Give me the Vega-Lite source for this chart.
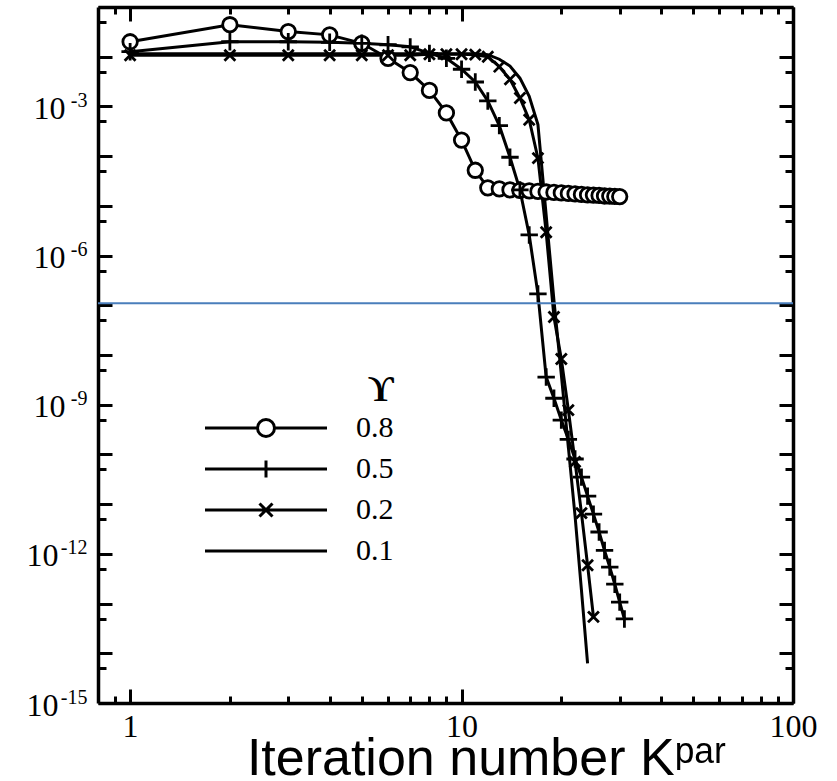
{
  "$schema": "https://vega.github.io/schema/vega-lite/v6.json",
  "width": 695,
  "height": 696,
  "autosize": "none",
  "padding": {"left": 98, "top": 7, "right": 44, "bottom": 78},
  "background": "white",
  "config": {
    "view": {"stroke": null},
    "axis": {
      "grid": false,
      "domainColor": "black",
      "domainWidth": 3.5,
      "tickColor": "black",
      "tickWidth": 3,
      "labelFont": "Liberation Serif",
      "labelFontSize": 32,
      "labelColor": "black"
    }
  },
  "datasets": {
    "runs": [
      {"g": "0.8", "k": 1, "v": 2.0e-2},
      {"g": "0.8", "k": 2, "v": 4.4e-2},
      {"g": "0.8", "k": 3, "v": 3.2e-2},
      {"g": "0.8", "k": 4, "v": 2.75e-2},
      {"g": "0.8", "k": 5, "v": 1.86e-2},
      {"g": "0.8", "k": 6, "v": 9.3e-3},
      {"g": "0.8", "k": 7, "v": 4.8e-3},
      {"g": "0.8", "k": 8, "v": 2.1e-3},
      {"g": "0.8", "k": 9, "v": 7.4e-4},
      {"g": "0.8", "k": 10, "v": 2.1e-4},
      {"g": "0.8", "k": 11, "v": 5.2e-5},
      {"g": "0.8", "k": 12, "v": 2.3e-5},
      {"g": "0.8", "k": 13, "v": 2.19e-5},
      {"g": "0.8", "k": 14, "v": 2.09e-5},
      {"g": "0.8", "k": 15, "v": 2.04e-5},
      {"g": "0.8", "k": 16, "v": 2.0e-5},
      {"g": "0.8", "k": 17, "v": 1.95e-5},
      {"g": "0.8", "k": 18, "v": 1.9e-5},
      {"g": "0.8", "k": 19, "v": 1.86e-5},
      {"g": "0.8", "k": 20, "v": 1.82e-5},
      {"g": "0.8", "k": 21, "v": 1.78e-5},
      {"g": "0.8", "k": 22, "v": 1.74e-5},
      {"g": "0.8", "k": 23, "v": 1.7e-5},
      {"g": "0.8", "k": 24, "v": 1.66e-5},
      {"g": "0.8", "k": 25, "v": 1.65e-5},
      {"g": "0.8", "k": 26, "v": 1.62e-5},
      {"g": "0.8", "k": 27, "v": 1.58e-5},
      {"g": "0.8", "k": 28, "v": 1.57e-5},
      {"g": "0.8", "k": 29, "v": 1.55e-5},
      {"g": "0.8", "k": 30, "v": 1.54e-5},
      {"g": "0.5", "k": 1, "v": 1.26e-2},
      {"g": "0.5", "k": 2, "v": 2.0e-2},
      {"g": "0.5", "k": 3, "v": 2.0e-2},
      {"g": "0.5", "k": 4, "v": 1.95e-2},
      {"g": "0.5", "k": 5, "v": 1.86e-2},
      {"g": "0.5", "k": 6, "v": 1.74e-2},
      {"g": "0.5", "k": 7, "v": 1.58e-2},
      {"g": "0.5", "k": 8, "v": 1.17e-2},
      {"g": "0.5", "k": 9, "v": 9.3e-3},
      {"g": "0.5", "k": 10, "v": 5.6e-3},
      {"g": "0.5", "k": 11, "v": 3.1e-3},
      {"g": "0.5", "k": 12, "v": 1.29e-3},
      {"g": "0.5", "k": 13, "v": 4.1e-4},
      {"g": "0.5", "k": 14, "v": 9.5e-5},
      {"g": "0.5", "k": 15, "v": 2.1e-5},
      {"g": "0.5", "k": 16, "v": 2.6e-6},
      {"g": "0.5", "k": 17, "v": 1.7e-7},
      {"g": "0.5", "k": 18, "v": 3.6e-9},
      {"g": "0.5", "k": 19, "v": 1.35e-9},
      {"g": "0.5", "k": 20, "v": 4.9e-10},
      {"g": "0.5", "k": 21, "v": 2.0e-10},
      {"g": "0.5", "k": 22, "v": 8.1e-11},
      {"g": "0.5", "k": 23, "v": 3.5e-11},
      {"g": "0.5", "k": 24, "v": 1.45e-11},
      {"g": "0.5", "k": 25, "v": 6.3e-12},
      {"g": "0.5", "k": 26, "v": 2.75e-12},
      {"g": "0.5", "k": 27, "v": 1.17e-12},
      {"g": "0.5", "k": 28, "v": 5.4e-13},
      {"g": "0.5", "k": 29, "v": 2.45e-13},
      {"g": "0.5", "k": 30, "v": 1.07e-13},
      {"g": "0.5", "k": 31, "v": 4.9e-14},
      {"g": "0.2", "k": 1, "v": 1.07e-2},
      {"g": "0.2", "k": 2, "v": 1.07e-2},
      {"g": "0.2", "k": 3, "v": 1.07e-2},
      {"g": "0.2", "k": 4, "v": 1.07e-2},
      {"g": "0.2", "k": 5, "v": 1.07e-2},
      {"g": "0.2", "k": 6, "v": 1.07e-2},
      {"g": "0.2", "k": 7, "v": 1.07e-2},
      {"g": "0.2", "k": 8, "v": 1.12e-2},
      {"g": "0.2", "k": 9, "v": 1.12e-2},
      {"g": "0.2", "k": 10, "v": 1.12e-2},
      {"g": "0.2", "k": 11, "v": 1.1e-2},
      {"g": "0.2", "k": 12, "v": 1.0e-2},
      {"g": "0.2", "k": 13, "v": 6.3e-3},
      {"g": "0.2", "k": 14, "v": 3.5e-3},
      {"g": "0.2", "k": 15, "v": 1.48e-3},
      {"g": "0.2", "k": 16, "v": 5.4e-4},
      {"g": "0.2", "k": 17, "v": 9.1e-5},
      {"g": "0.2", "k": 18, "v": 2.95e-6},
      {"g": "0.2", "k": 19, "v": 5.8e-8},
      {"g": "0.2", "k": 20, "v": 8.3e-9},
      {"g": "0.2", "k": 21, "v": 7.8e-10},
      {"g": "0.2", "k": 22, "v": 7.1e-11},
      {"g": "0.2", "k": 23, "v": 6.6e-12},
      {"g": "0.2", "k": 24, "v": 5.9e-13},
      {"g": "0.2", "k": 25, "v": 5.4e-14},
      {"g": "0.1", "k": 1, "v": 1.15e-2},
      {"g": "0.1", "k": 2, "v": 1.15e-2},
      {"g": "0.1", "k": 3, "v": 1.15e-2},
      {"g": "0.1", "k": 4, "v": 1.15e-2},
      {"g": "0.1", "k": 5, "v": 1.15e-2},
      {"g": "0.1", "k": 6, "v": 1.15e-2},
      {"g": "0.1", "k": 7, "v": 1.15e-2},
      {"g": "0.1", "k": 8, "v": 1.15e-2},
      {"g": "0.1", "k": 9, "v": 1.15e-2},
      {"g": "0.1", "k": 10, "v": 1.15e-2},
      {"g": "0.1", "k": 11, "v": 1.15e-2},
      {"g": "0.1", "k": 12, "v": 1.1e-2},
      {"g": "0.1", "k": 13, "v": 8.9e-3},
      {"g": "0.1", "k": 14, "v": 6.5e-3},
      {"g": "0.1", "k": 15, "v": 3.7e-3},
      {"g": "0.1", "k": 16, "v": 1.6e-3},
      {"g": "0.1", "k": 17, "v": 4.3e-4},
      {"g": "0.1", "k": 18, "v": 6.5e-6},
      {"g": "0.1", "k": 19, "v": 1.26e-7},
      {"g": "0.1", "k": 20, "v": 4.0e-9},
      {"g": "0.1", "k": 21, "v": 1.4e-10},
      {"g": "0.1", "k": 22, "v": 5.8e-12},
      {"g": "0.1", "k": 23, "v": 1.86e-13},
      {"g": "0.1", "k": 24, "v": 6.3e-15}
    ],
    "reference": [{"level": 1.1e-7}]
  },
  "layer": [
    {
      "data": {"name": "runs"},
      "mark": {"type": "line", "color": "black", "strokeWidth": 3},
      "encoding": {
        "x": {
          "field": "k", "type": "quantitative",
          "scale": {"type": "log", "domain": [0.8, 100], "nice": false},
          "axis": {
            "orient": "bottom",
            "values": [0.9, 1, 2, 3, 4, 5, 6, 7, 8, 9, 10, 20, 30, 40, 50, 60, 70, 80, 90, 100],
            "tickSize": {"condition": {"test": "abs(log(datum.value)/LN10 - round(log(datum.value)/LN10)) < 0.001", "value": -14}, "value": -7},
            "labelExpr": "datum.value == 1 ? '1' : datum.value == 10 ? '10' : datum.value == 100 ? '100' : ''",
            "labelPadding": 22,
            "labelFlush": false,
            "labelOverlap": false,
            "title": "Iteration number Kᵖᵃʳ",
            "titleFont": "Liberation Sans",
            "titleFontSize": 52,
            "titleFontWeight": "normal",
            "titleColor": "black",
            "titleX": 388,
            "titleY": 71,
            "titleAlign": "center",
            "titleBaseline": "alphabetic"
          }
        },
        "y": {
          "field": "v", "type": "quantitative",
          "scale": {"type": "log", "domain": [1e-15, 1e-1], "nice": false},
          "axis": {
            "orient": "left",
            "values": [1e-15, 5e-15, 1e-14, 5e-14, 1e-13, 5e-13, 1e-12, 5e-12, 1e-11, 5e-11, 1e-10, 5e-10, 1e-9, 5e-9, 1e-8, 5e-8, 1e-7, 5e-7, 1e-6, 5e-6, 1e-5, 5e-5, 1e-4, 5e-4, 1e-3, 5e-3, 1e-2, 5e-2, 1e-1],
            "tickSize": {"condition": {"test": "abs(log(datum.value)/LN10 - round(log(datum.value)/LN10)) < 0.001", "value": -14}, "value": -8},
            "labelExpr": "abs(log(datum.value)/LN10 - round(log(datum.value)/LN10)) > 0.001 ? '' : (round(log(datum.value)/LN10) % 3 == 0 && round(log(datum.value)/LN10) <= -3) ? '10' : ''",
            "labelFontSize": 32,
            "labelPadding": {"condition": {"test": "datum.value < 1e-10", "value": 54}, "value": 47},
            "labelOffset": 2,
            "labelFlush": false,
            "labelOverlap": false,
            "labelBaseline": "middle",
            "title": null
          }
        },
        "detail": {"field": "g", "type": "nominal"}
      }
    },
    {
      "data": {"name": "runs"},
      "transform": [{"filter": "datum.g != '0.1'"}],
      "mark": {"type": "point", "fill": "white", "stroke": "black", "strokeWidth": 2.8, "opacity": 1, "size": 210},
      "encoding": {
        "x": {
          "field": "k", "type": "quantitative",
          "scale": {"type": "log", "domain": [0.8, 100], "nice": false},
          "axis": {
            "orient": "top",
            "values": [0.9, 1, 2, 3, 4, 5, 6, 7, 8, 9, 10, 20, 30, 40, 50, 60, 70, 80, 90, 100],
            "tickSize": {"condition": {"test": "abs(log(datum.value)/LN10 - round(log(datum.value)/LN10)) < 0.001", "value": -14}, "value": -7},
            "labels": false,
            "title": null
          }
        },
        "y": {"field": "v", "type": "quantitative", "axis": null},
        "shape": {
          "field": "g", "type": "nominal",
          "scale": {"domain": ["0.8", "0.5", "0.2"], "range": ["circle", "M-1.2,0L1.2,0M0,-1.2L0,1.2", "M-0.75,-0.75L0.75,0.75M-0.75,0.75L0.75,-0.75"]},
          "legend": null
        }
      }
    },
    {
      "data": {"name": "runs"},
      "transform": [{"filter": "false"}],
      "mark": {"type": "point", "filled": false, "color": "black", "strokeWidth": 3},
      "encoding": {
        "shape": {
          "field": "g", "type": "nominal",
          "scale": {
            "domain": ["0.8", "0.5", "0.2", "0.1"],
            "range": [
              "M-12.2,0L-1.7,0M1.7,0L12.2,0M1.7,0A1.7,1.7,0,1,1,-1.7,0A1.7,1.7,0,1,1,1.7,0Z",
              "M-12.2,0L12.2,0M0,-1.7L0,1.7",
              "M-12.2,0L12.2,0M-1.3,-1.3L1.3,1.3M-1.3,1.3L1.3,-1.3",
              "M-12.2,0L12.2,0"
            ]
          },
          "legend": {
            "orient": "none",
            "legendX": 153,
            "legendY": 366,
            "title": "ϒ",
            "titleFont": "Liberation Serif",
            "titleFontSize": 36,
            "titleFontWeight": "bold",
            "titleColor": "black",
            "titleAnchor": "end",
            "titlePadding": 4,
            "labelFont": "Liberation Serif",
            "labelFontSize": 30,
            "labelColor": "black",
            "labelOffset": 75,
            "symbolSize": 100,
            "symbolStrokeWidth": 3,
            "symbolStrokeColor": "black",
            "symbolOpacity": 1,
            "rowPadding": 11,
            "padding": 0
          }
        }
      }
    },
    {
      "data": {"name": "reference"},
      "mark": {"type": "rule", "color": "#4a7ebb", "strokeWidth": 2},
      "encoding": {
        "y": {
          "field": "level", "type": "quantitative",
          "axis": {
            "orient": "right",
            "values": [1e-15, 5e-15, 1e-14, 5e-14, 1e-13, 5e-13, 1e-12, 5e-12, 1e-11, 5e-11, 1e-10, 5e-10, 1e-9, 5e-9, 1e-8, 5e-8, 1e-7, 5e-7, 1e-6, 5e-6, 1e-5, 5e-5, 1e-4, 5e-4, 1e-3, 5e-3, 1e-2, 5e-2, 1e-1],
            "tickSize": {"condition": {"test": "abs(log(datum.value)/LN10 - round(log(datum.value)/LN10)) < 0.001", "value": -14}, "value": -8},
            "labelExpr": "abs(log(datum.value)/LN10 - round(log(datum.value)/LN10)) > 0.001 ? '' : (round(log(datum.value)/LN10) % 3 == 0 && round(log(datum.value)/LN10) <= -3) ? '' + round(log(datum.value)/LN10) : ''",
            "labelFontSize": 20,
            "labelAlign": "right",
            "labelBaseline": "alphabetic",
            "labelPadding": -692,
            "labelOffset": 0,
            "labelFlush": false,
            "labelOverlap": false,
            "title": null
          }
        }
      }
    }
  ],
  "resolve": {
    "scale": {"shape": "independent"},
    "axis": {"x": "independent", "y": "independent"}
  }
}
